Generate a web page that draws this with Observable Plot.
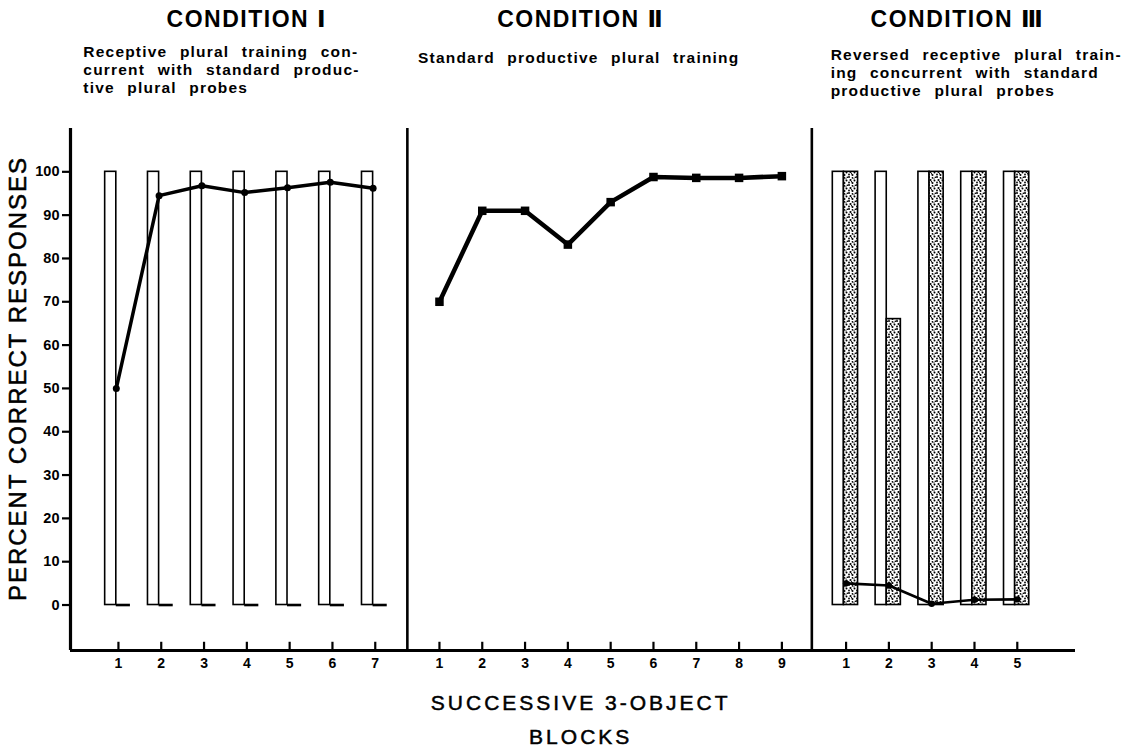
<!DOCTYPE html>
<html><head><meta charset="utf-8">
<script src="https://cdn.jsdelivr.net/npm/d3@7"></script>
<script src="https://cdn.jsdelivr.net/npm/@observablehq/plot@0.6"></script>
<style>
html,body{margin:0;padding:0;background:#fff;}
#chart svg{display:block;}
</style></head><body><div id="chart"></div>
<script>
// ---- data ----
const conditionNames = ["CONDITION \u2160", "CONDITION \u2161", "CONDITION \u2162"];
const conditionNotes = [
  "Receptive plural training con-\ncurrent with standard produc-\ntive plural probes",
  "Standard productive plural training",
  "Reversed receptive plural train-\ning concurrent with standard\nproductive plural probes"
];
const cond1Blocks = [1, 2, 3, 4, 5, 6, 7];
const cond1Productive = [50, 94.5, 96.8, 95.2, 96.3, 97.6, 96.2];
const cond1Receptive = [100, 100, 100, 100, 100, 100, 100];
const cond1Reversed = [0, 0, 0, 0, 0, 0, 0];
const cond2Blocks = [1, 2, 3, 4, 5, 6, 7, 8, 9];
const cond2Productive = [70, 91, 91, 83.2, 93, 98.8, 98.6, 98.6, 99];
const cond3Blocks = [1, 2, 3, 4, 5];
const cond3Productive = [5, 4.5, 0.3, 1.2, 1.3];
const cond3Receptive = [100, 100, 100, 100, 100];
const cond3Reversed = [100, 66, 100, 100, 100];
const yTicks = [0, 10, 20, 30, 40, 50, 60, 70, 80, 90, 100];
const xTitle = "SUCCESSIVE 3-OBJECT\nBLOCKS";
const yTitle = "PERCENT CORRECT RESPONSES";

// ---- layout (not data) ----
const starts = [1, 8.5, 18];
const dividers = [7.75, 17.2];
const xDomain = [-0.12, 23.36];
const yDomain = [-10.5, 110];
const titleX = [4.0, 11.8, 20.6];
const noteX = [0.18, 8.0, 17.64];
const noteDy = [-84, -78, -81];

function build(ci, blocks, prod, rec, rev) {
  return blocks.map((b, i) => ({
    cond: ci, label: b, g: starts[ci] + i,
    productive: prod[i],
    receptive: rec ? rec[i] : null,
    reversed: rev ? rev[i] : null
  }));
}
const c1 = build(0, cond1Blocks, cond1Productive, cond1Receptive, cond1Reversed);
const c2 = build(1, cond2Blocks, cond2Productive, null, null);
const c3 = build(2, cond3Blocks, cond3Productive, cond3Receptive, cond3Reversed);
const rows = [...c1, ...c2, ...c3];
const barRows = rows.filter(d => d.receptive != null);

const font = "'Liberation Sans', 'DejaVu Sans', sans-serif";

const marks = [
  Plot.rectY(barRows, {x1: d => d.g - 0.31, x2: d => d.g - 0.05, y1: 0, y2: "receptive", fill: "white", stroke: "black", strokeWidth: 1.6}),
  Plot.rectY(barRows.filter(d => d.reversed > 0), {x1: d => d.g - 0.05, x2: d => d.g + 0.28, y1: 0, y2: "reversed", fill: "url(#stipple)", stroke: "black", strokeWidth: 1.6}),
  Plot.ruleY(barRows.filter(d => d.reversed === 0), {x1: d => d.g - 0.05, x2: d => d.g + 0.28, y: 0, strokeWidth: 2.6}),
  Plot.line(c1, {x: d => d.g - 0.05, y: "productive", strokeWidth: 3.5}),
  Plot.dot(c1, {x: d => d.g - 0.05, y: "productive", r: 3.5, fill: "black"}),
  Plot.line(c2, {x: "g", y: "productive", strokeWidth: 4.5}),
  Plot.dot(c2, {x: "g", y: "productive", r: 4.8, symbol: "square", fill: "black"}),
  Plot.line(c3, {x: "g", y: "productive", strokeWidth: 2.6}),
  Plot.dot(c3, {x: "g", y: "productive", r: 3.2, fill: "black"}),
  Plot.ruleX([xDomain[0]], {strokeWidth: 3.2}),
  Plot.ruleY([yDomain[0]], {strokeWidth: 3.2}),
  Plot.ruleX(dividers, {strokeWidth: 2.6}),
  Plot.ruleX(rows, {x: "g", y1: yDomain[0], y2: yDomain[0] + 1.9, strokeWidth: 2.2}),
  Plot.text(rows, {x: "g", y: yDomain[0], text: "label", lineAnchor: "top", dy: 8, fontSize: 14, fontWeight: "bold"}),
  Plot.axisY({ticks: yTicks, tickSize: 8, tickPadding: 3, fontSize: 14.5, fontWeight: "bold", strokeWidth: 2.2, label: null}),
  Plot.text(conditionNames, {x: (d, i) => titleX[i], frameAnchor: "top", dy: -109, text: d => d, fontSize: 23, fontWeight: "bold", lineAnchor: "middle"}),
  ...conditionNotes.map((n, i) => Plot.text([n], {x: () => noteX[i], frameAnchor: "top", dy: noteDy[i], text: d => d, textAnchor: "start", lineAnchor: "top", fontSize: 15.5, fontWeight: "bold", lineHeight: 1.16})),
  Plot.text([xTitle], {x: () => 11.8, frameAnchor: "bottom", dy: 35, text: d => d, lineAnchor: "top", fontSize: 21, lineHeight: 1.62}),
  Plot.text([yTitle], {frameAnchor: "left", textAnchor: "middle", dx: -52, dy: -11, rotate: -90, text: d => d, fontSize: 24})
];

const svg = Plot.plot({
  width: 1129, height: 749,
  marginLeft: 70, marginRight: 54, marginTop: 128, marginBottom: 99,
  x: {domain: xDomain, axis: null},
  y: {domain: yDomain},
  style: {fontFamily: font, color: "black", background: "white", overflow: "visible"},
  marks
});

// stipple pattern for the reversed-training bars
const ns = "http://www.w3.org/2000/svg";
const defs = document.createElementNS(ns, "defs");
const pat = document.createElementNS(ns, "pattern");
pat.setAttribute("id", "stipple");
pat.setAttribute("patternUnits", "userSpaceOnUse");
pat.setAttribute("width", 8); pat.setAttribute("height", 8);
const bg = document.createElementNS(ns, "rect");
bg.setAttribute("width", 8); bg.setAttribute("height", 8); bg.setAttribute("fill", "white");
pat.appendChild(bg);
[[1,1,1],[4.5,1.8,0.9],[2.5,4,1.1],[6.5,4.5,1],[1,6.5,0.9],[4.5,7,1],[7.3,1.2,0.8],[3.5,5.8,0.7],[6,2.8,0.6]].forEach(([cx, cy, r]) => {
  const c = document.createElementNS(ns, "circle");
  c.setAttribute("cx", cx); c.setAttribute("cy", cy); c.setAttribute("r", r); c.setAttribute("fill", "black");
  pat.appendChild(c);
});
defs.appendChild(pat);
svg.insertBefore(defs, svg.firstChild);

svg.querySelectorAll("g[font-size]").forEach(g => {
  const fs = +String(g.getAttribute("font-size")).replace("px", "");
  if (fs === 23) g.setAttribute("letter-spacing", "1.5");
  if (fs === 21) { g.setAttribute("letter-spacing", "3"); g.setAttribute("stroke", "black"); g.setAttribute("stroke-width", "0.5"); }
  if (fs === 24) { g.setAttribute("letter-spacing", "2"); g.setAttribute("stroke", "black"); g.setAttribute("stroke-width", "0.5"); }
  if (fs === 15.5) { g.setAttribute("word-spacing", "7"); g.setAttribute("letter-spacing", "1.2"); }
});

document.getElementById("chart").appendChild(svg);
</script></body></html>
